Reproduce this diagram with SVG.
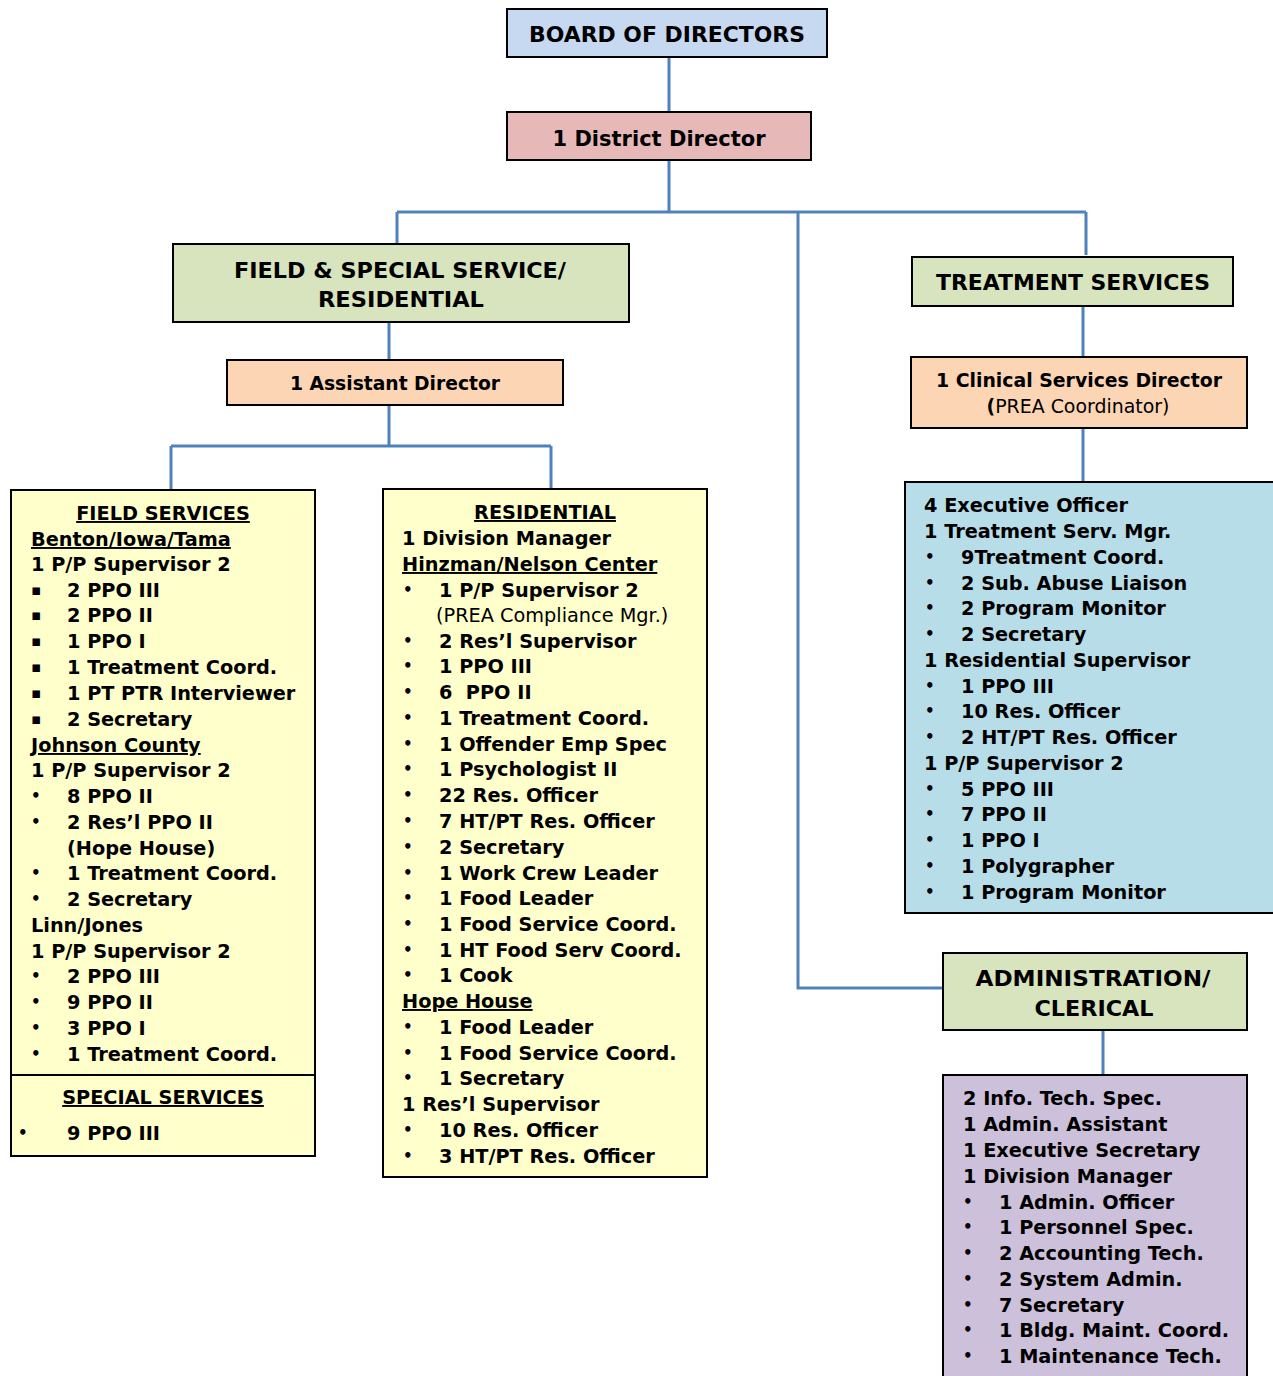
<svg xmlns="http://www.w3.org/2000/svg" width="1273" height="1376" viewBox="0 0 1273 1376">
<style>
text{font-family:"DejaVu Sans","Verdana",sans-serif;font-weight:bold;font-size:19.3px;fill:#000}
.box{stroke:#000;stroke-width:2}
.u{text-decoration:underline}
.n{font-weight:normal}
.c{text-anchor:middle}
.h{font-size:22px}
.b{font-size:15px}
.con{fill:none;stroke:#4f81bd;stroke-width:3}
</style>
<rect width="1273" height="1376" fill="#fff"/>
<g id="connectors">
<path class="con" d="M669 57V112"/>
<path class="con" d="M669 160V212"/>
<path class="con" d="M397 212H1086"/>
<path class="con" d="M397 212V244"/>
<path class="con" d="M1086 212V255"/>
<path class="con" d="M798 212V988H942"/>
<path class="con" d="M389 322V360"/>
<path class="con" d="M389 405V446"/>
<path class="con" d="M171 446H551"/>
<path class="con" d="M171 446V490"/>
<path class="con" d="M551 446V489"/>
<path class="con" d="M1083 306V357"/>
<path class="con" d="M1083 428V482"/>
<path class="con" d="M1103 1030V1075"/>
</g>
<g id="board">
<rect class="box" x="507" y="9" width="320" height="48" fill="#c6d9f1"/>
<text class="c h" x="667" y="42" textLength="276" lengthAdjust="spacingAndGlyphs">BOARD OF DIRECTORS</text>
</g>
<g id="district">
<rect class="box" x="507" y="112" width="304" height="48" fill="#e6b9b8"/>
<text class="c h" x="659" y="146" textLength="213" lengthAdjust="spacingAndGlyphs">1 District Director</text>
</g>
<g id="field-special">
<rect class="box" x="173" y="244" width="456" height="78" fill="#d7e4bd"/>
<text class="c h" x="400" y="278" textLength="332" lengthAdjust="spacingAndGlyphs">FIELD &amp; SPECIAL SERVICE/</text>
<text class="c h" x="401" y="307" textLength="166" lengthAdjust="spacingAndGlyphs">RESIDENTIAL</text>
</g>
<g id="assistant">
<rect class="box" x="227" y="360" width="336" height="45" fill="#fcd5b4"/>
<text class="c" x="395" y="390" textLength="210" lengthAdjust="spacingAndGlyphs">1 Assistant Director</text>
</g>
<g id="treatment">
<rect class="box" x="912" y="257" width="321" height="49" fill="#d7e4bd"/>
<text class="c h" x="1073" y="290" textLength="274" lengthAdjust="spacingAndGlyphs">TREATMENT SERVICES</text>
</g>
<g id="clinical">
<rect class="box" x="911" y="357" width="336" height="71" fill="#fcd5b4"/>
<text class="c" x="1079" y="387" textLength="286" lengthAdjust="spacingAndGlyphs">1 Clinical Services Director</text>
<text class="c n" x="1078" y="413" textLength="183" lengthAdjust="spacingAndGlyphs"><tspan font-weight="bold">(</tspan>PREA Coordinator)</text>
</g>
<g id="admin">
<rect class="box" x="943" y="953" width="304" height="77" fill="#d7e4bd"/>
<text class="c h" x="1093" y="986" textLength="235" lengthAdjust="spacingAndGlyphs">ADMINISTRATION/</text>
<text class="c h" x="1094" y="1016" textLength="119" lengthAdjust="spacingAndGlyphs">CLERICAL</text>
</g>
<g id="field-services">
<rect class="box" x="11" y="490" width="304" height="585" fill="#ffffcc"/>
<text class="c u" x="163" y="520">FIELD SERVICES</text>
<text class="u" x="31" y="546">Benton/Iowa/Tama</text>
<text x="31" y="571">1 P/P Supervisor 2</text>
<text class="b" x="31" y="595">▪</text><text x="67" y="597">2 PPO III</text>
<text class="b" x="31" y="620">▪</text><text x="67" y="622">2 PPO II</text>
<text class="b" x="31" y="646">▪</text><text x="67" y="648">1 PPO I</text>
<text class="b" x="31" y="672">▪</text><text x="67" y="674">1 Treatment Coord.</text>
<text class="b" x="31" y="698">▪</text><text x="67" y="700">1 PT PTR Interviewer</text>
<text class="b" x="31" y="724">▪</text><text x="67" y="726">2 Secretary</text>
<text class="u" x="31" y="752">Johnson County</text>
<text x="31" y="777">1 P/P Supervisor 2</text>
<text class="b" x="31" y="801">•</text><text x="67" y="803">8 PPO II</text>
<text class="b" x="31" y="827">•</text><text x="67" y="829">2 Res’l PPO II</text>
<text x="67" y="855">(Hope House)</text>
<text class="b" x="31" y="878">•</text><text x="67" y="880">1 Treatment Coord.</text>
<text class="b" x="31" y="904">•</text><text x="67" y="906">2 Secretary</text>
<text x="31" y="932">Linn/Jones</text>
<text x="31" y="958">1 P/P Supervisor 2</text>
<text class="b" x="31" y="981">•</text><text x="67" y="983">2 PPO III</text>
<text class="b" x="31" y="1007">•</text><text x="67" y="1009">9 PPO II</text>
<text class="b" x="31" y="1033">•</text><text x="67" y="1035">3 PPO I</text>
<text class="b" x="31" y="1059">•</text><text x="67" y="1061">1 Treatment Coord.</text>
</g>
<g id="special-services">
<rect class="box" x="11" y="1075" width="304" height="81" fill="#ffffcc"/>
<text class="c u" x="163" y="1104">SPECIAL SERVICES</text>
<text class="b" x="18" y="1138">•</text><text x="67" y="1140">9 PPO III</text>
</g>
<g id="residential">
<rect class="box" x="383" y="489" width="324" height="688" fill="#ffffcc"/>
<text class="c u" x="545" y="519">RESIDENTIAL</text>
<text x="402" y="545">1 Division Manager</text>
<text class="u" x="402" y="571">Hinzman/Nelson Center</text>
<text class="b" x="403" y="595">•</text><text x="439" y="597">1 P/P Supervisor 2</text>
<text class="n" x="436" y="622">(PREA Compliance Mgr.)</text>
<text class="b" x="403" y="646">•</text><text x="439" y="648">2 Res’l Supervisor</text>
<text class="b" x="403" y="671">•</text><text x="439" y="673">1 PPO III</text>
<text class="b" x="403" y="697">•</text><text x="439" y="699" xml:space="preserve">6  PPO II</text>
<text class="b" x="403" y="723">•</text><text x="439" y="725">1 Treatment Coord.</text>
<text class="b" x="403" y="749">•</text><text x="439" y="751">1 Offender Emp Spec</text>
<text class="b" x="403" y="774">•</text><text x="439" y="776">1 Psychologist II</text>
<text class="b" x="403" y="800">•</text><text x="439" y="802">22 Res. Officer</text>
<text class="b" x="403" y="826">•</text><text x="439" y="828">7 HT/PT Res. Officer</text>
<text class="b" x="403" y="852">•</text><text x="439" y="854">2 Secretary</text>
<text class="b" x="403" y="878">•</text><text x="439" y="880">1 Work Crew Leader</text>
<text class="b" x="403" y="903">•</text><text x="439" y="905">1 Food Leader</text>
<text class="b" x="403" y="929">•</text><text x="439" y="931">1 Food Service Coord.</text>
<text class="b" x="403" y="955">•</text><text x="439" y="957">1 HT Food Serv Coord.</text>
<text class="b" x="403" y="980">•</text><text x="439" y="982">1 Cook</text>
<text class="u" x="402" y="1008">Hope House</text>
<text class="b" x="403" y="1032">•</text><text x="439" y="1034">1 Food Leader</text>
<text class="b" x="403" y="1058">•</text><text x="439" y="1060">1 Food Service Coord.</text>
<text class="b" x="403" y="1083">•</text><text x="439" y="1085">1 Secretary</text>
<text x="402" y="1111">1 Res’l Supervisor</text>
<text class="b" x="403" y="1135">•</text><text x="439" y="1137">10 Res. Officer</text>
<text class="b" x="403" y="1161">•</text><text x="439" y="1163">3 HT/PT Res. Officer</text>
</g>
<g id="treatment-staff">
<rect class="box" x="905" y="482" width="372" height="431" fill="#b7dde8"/>
<text x="924" y="512">4 Executive Officer</text>
<text x="924" y="538">1 Treatment Serv. Mgr.</text>
<text class="b" x="925" y="562">•</text><text x="961" y="564">9Treatment Coord.</text>
<text class="b" x="925" y="588">•</text><text x="961" y="590">2 Sub. Abuse Liaison</text>
<text class="b" x="925" y="613">•</text><text x="961" y="615">2 Program Monitor</text>
<text class="b" x="925" y="639">•</text><text x="961" y="641">2 Secretary</text>
<text x="924" y="667">1 Residential Supervisor</text>
<text class="b" x="925" y="691">•</text><text x="961" y="693">1 PPO III</text>
<text class="b" x="925" y="716">•</text><text x="961" y="718">10 Res. Officer</text>
<text class="b" x="925" y="742">•</text><text x="961" y="744">2 HT/PT Res. Officer</text>
<text x="924" y="770">1 P/P Supervisor 2</text>
<text class="b" x="925" y="794">•</text><text x="961" y="796">5 PPO III</text>
<text class="b" x="925" y="819">•</text><text x="961" y="821">7 PPO II</text>
<text class="b" x="925" y="845">•</text><text x="961" y="847">1 PPO I</text>
<text class="b" x="925" y="871">•</text><text x="961" y="873">1 Polygrapher</text>
<text class="b" x="925" y="897">•</text><text x="961" y="899">1 Program Monitor</text>
</g>
<g id="admin-staff">
<rect class="box" x="943" y="1075" width="304" height="310" fill="#ccc0da"/>
<text x="963" y="1105">2 Info. Tech. Spec.</text>
<text x="963" y="1131">1 Admin. Assistant</text>
<text x="963" y="1157">1 Executive Secretary</text>
<text x="963" y="1183">1 Division Manager</text>
<text class="b" x="963" y="1207">•</text><text x="999" y="1209">1 Admin. Officer</text>
<text class="b" x="963" y="1232">•</text><text x="999" y="1234">1 Personnel Spec.</text>
<text class="b" x="963" y="1258">•</text><text x="999" y="1260">2 Accounting Tech.</text>
<text class="b" x="963" y="1284">•</text><text x="999" y="1286">2 System Admin.</text>
<text class="b" x="963" y="1310">•</text><text x="999" y="1312">7 Secretary</text>
<text class="b" x="963" y="1335">•</text><text x="999" y="1337">1 Bldg. Maint. Coord.</text>
<text class="b" x="963" y="1361">•</text><text x="999" y="1363">1 Maintenance Tech.</text>
</g>
</svg>
